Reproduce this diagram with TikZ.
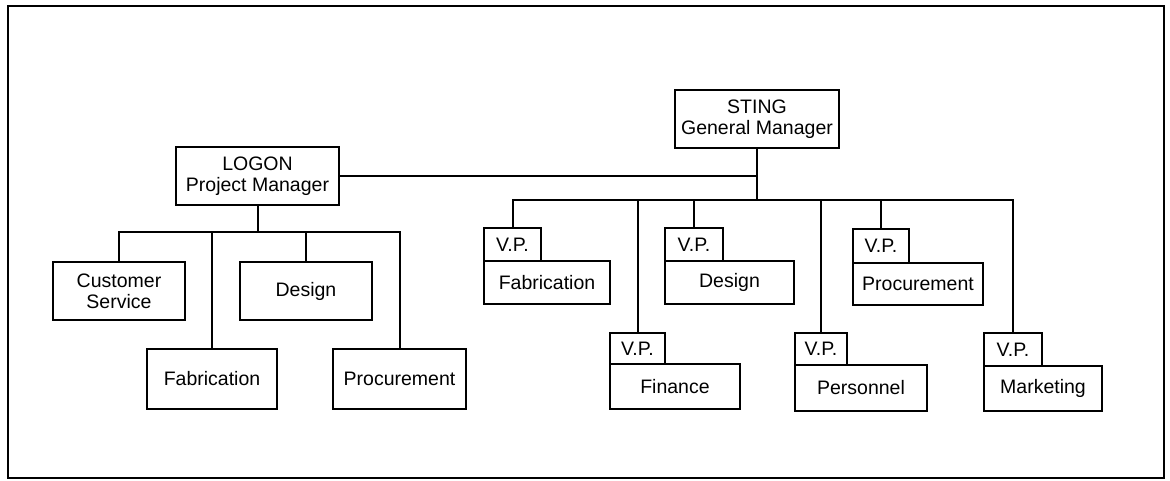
\documentclass[tikz,border=0pt]{standalone}
\usepackage{fontspec}
\setmainfont{Liberation Sans}
\begin{document}
\begin{tikzpicture}[x=1pt,y=-1pt,
  box/.style={draw, line width=2pt, inner sep=0pt, anchor=north west, align=center,
    font=\fontsize{19.5}{21}\selectfont},
  conn/.style={draw, line width=2pt}]
\useasboundingbox (0,0) rectangle (1170,480);
\draw[line width=2.8pt] (8,6) rectangle (1164,478);
% project side
\node[box, minimum width=163pt, minimum height=58pt] (logon) at (175,146) {LOGON\\Project Manager};
\node[box, minimum width=132pt, minimum height=58pt] (cs) at (52,261) {Customer\\Service};
\node[box, minimum width=132pt, minimum height=58pt] (desL) at (239,261) {Design};
\node[box, minimum width=130pt, minimum height=60pt] (fabL) at (146,348) {Fabrication};
\node[box, minimum width=133pt, minimum height=60pt] (procL) at (332,348) {Procurement};
% functional side
\node[box, minimum width=164pt, minimum height=58pt] (sting) at (674,89) {STING\\General Manager};
\node[box, minimum width=57pt, minimum height=33pt] (vfabT) at (483,227) {V.P.};
\node[box, minimum width=126pt, minimum height=43pt] (vfab) at (483,260) {Fabrication};
\node[box, minimum width=58pt, minimum height=33pt] (vdesT) at (664,227) {V.P.};
\node[box, minimum width=129pt, minimum height=43pt] (vdes) at (664,260) {Design};
\node[box, minimum width=56pt, minimum height=34pt] (vprocT) at (852,228) {V.P.};
\node[box, minimum width=130pt, minimum height=42pt] (vproc) at (852,262) {Procurement};
\node[box, minimum width=55pt, minimum height=31pt] (vfinT) at (609,332) {V.P.};
\node[box, minimum width=130pt, minimum height=45pt] (vfin) at (609,363) {Finance};
\node[box, minimum width=52pt, minimum height=32pt] (vperT) at (794,332) {V.P.};
\node[box, minimum width=132pt, minimum height=46pt] (vper) at (794,364) {Personnel};
\node[box, minimum width=58pt, minimum height=33pt] (vmktT) at (983,332) {V.P.};
\node[box, minimum width=118pt, minimum height=45pt] (vmkt) at (983,365) {Marketing};
% connectors project side
\coordinate (lbus) at (257,232);
\draw[conn] (logon.south) -- (logon.south |- lbus);
\draw[conn] (cs.north) |- (procL.north |- lbus) -- (procL.north);
\draw[conn] (fabL.north) -- (fabL.north |- lbus);
\draw[conn] (desL.north) -- (desL.north |- lbus);
% connectors functional side
\coordinate (sbus) at (756,200);
\draw[conn] (sting.south) -- (sting.south |- sbus);
\draw[conn] (logon.east) -- (logon.east -| sting.south);
\draw[conn] (vfabT.north) |- (vmktT.north |- sbus) -- (vmktT.north);
\draw[conn] (vdesT.north) -- (vdesT.north |- sbus);
\draw[conn] (vprocT.north) -- (vprocT.north |- sbus);
\draw[conn] (vfinT.north) -- (vfinT.north |- sbus);
\draw[conn] (vperT.north) -- (vperT.north |- sbus);
\end{tikzpicture}
\end{document}
